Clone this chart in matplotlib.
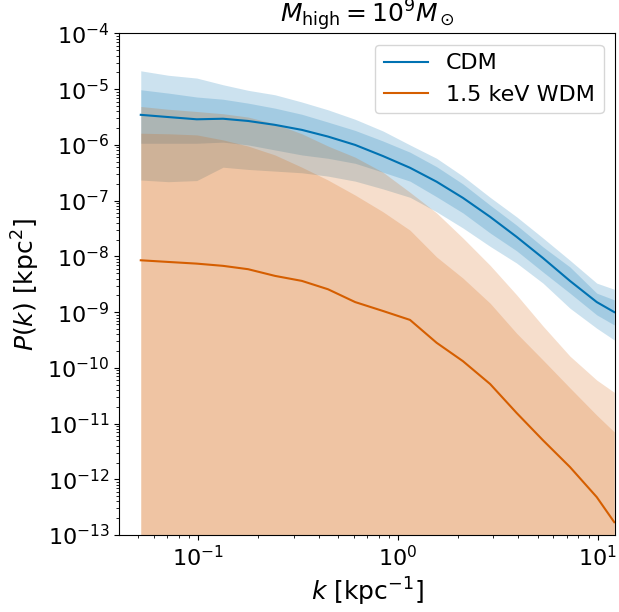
import numpy as np
import matplotlib
matplotlib.use("Agg")
import matplotlib.pyplot as plt

# wavenumbers [kpc^-1]
k = [0.0515, 0.0708, 0.0982, 0.133, 0.1775, 0.242, 0.330, 0.446, 0.610, 0.841,
     1.148, 1.560, 2.113, 2.891, 3.926, 5.32, 7.26, 9.89, 12.1]

# log10 P(k)
cdm_med = [-5.46, -5.50, -5.54, -5.53, -5.57, -5.64, -5.73, -5.85, -6.00, -6.20,
           -6.41, -6.66, -6.95, -7.29, -7.65, -8.03, -8.44, -8.82, -9.00]
cdm_hi2 = [-4.67, -4.75, -4.80, -4.92, -5.02, -5.10, -5.23, -5.37, -5.54, -5.75,
           -6.00, -6.24, -6.56, -6.94, -7.29, -7.67, -8.07, -8.48, -8.59]
cdm_hi1 = [-5.01, -5.07, -5.14, -5.18, -5.25, -5.34, -5.45, -5.59, -5.74, -5.93,
           -6.13, -6.39, -6.70, -7.08, -7.44, -7.83, -8.19, -8.66, -8.78]
cdm_lo1 = [-5.97, -5.97, -5.97, -5.95, -6.00, -6.09, -6.18, -6.24, -6.33, -6.49,
           -6.65, -6.93, -7.22, -7.58, -7.90, -8.28, -8.66, -9.05, -9.23]
cdm_lo2 = [-6.63, -6.66, -6.64, -6.40, -6.44, -6.47, -6.50, -6.56, -6.65, -6.79,
           -6.94, -7.20, -7.49, -7.82, -8.12, -8.48, -8.93, -9.29, -9.50]

wdm_med = [-8.07, -8.10, -8.13, -8.17, -8.23, -8.35, -8.44, -8.59, -8.82, -8.98,
           -9.14, -9.55, -9.88, -10.29, -10.81, -11.30, -11.78, -12.32, -12.77]
wdm_hi2 = [-5.31, -5.36, -5.40, -5.44, -5.50, -5.62, -5.80, -6.02, -6.22, -6.49,
           -6.85, -7.22, -7.67, -8.16, -8.69, -9.25, -9.79, -10.22, -10.44]
wdm_hi1 = [-5.79, -5.80, -5.82, -5.91, -6.02, -6.18, -6.40, -6.63, -6.90, -7.20,
           -7.53, -8.01, -8.39, -8.84, -9.38, -9.86, -10.36, -10.85, -11.15]
# lower WDM percentiles sit below the plotted range
wdm_lo = [-16.0] * len(k)

BLUE = "#0072B2"
ORANGE = "#D55E00"

fig = plt.figure(figsize=(6.19, 6.12), dpi=100)
ax = fig.add_axes([0.1927, 0.1258, 0.8008, 0.8195])

P = lambda a: 10 ** np.array(a)

ax.fill_between(k, P(cdm_lo2), P(cdm_hi2), color=BLUE, alpha=0.2, lw=0)
ax.fill_between(k, P(cdm_lo1), P(cdm_hi1), color=BLUE, alpha=0.2, lw=0)
ax.fill_between(k, P(wdm_lo), P(wdm_hi2), color=ORANGE, alpha=0.2, lw=0)
ax.fill_between(k, P(wdm_lo), P(wdm_hi1), color=ORANGE, alpha=0.2, lw=0)

ax.plot(k, P(cdm_med), color=BLUE, lw=1.5, label="CDM")
ax.plot(k, P(wdm_med), color=ORANGE, lw=1.5, label="1.5 keV WDM")

ax.set_xscale("log")
ax.set_yscale("log")
ax.set_xlim(0.0402, 12.2)
ax.set_ylim(1e-13, 1e-4)

ax.set_xlabel(r"$k\ [\mathrm{kpc}^{-1}]$", fontsize=18)
ax.set_ylabel(r"$P(k)\ [\mathrm{kpc}^{2}]$", fontsize=18)
ax.set_title(r"$M_{\mathrm{high}} = 10^{9} M_\odot$", fontsize=18, pad=2)
ax.tick_params(labelsize=16)
ax.legend(loc="upper right", fontsize=16)

fig.savefig("out.png", dpi=100)
